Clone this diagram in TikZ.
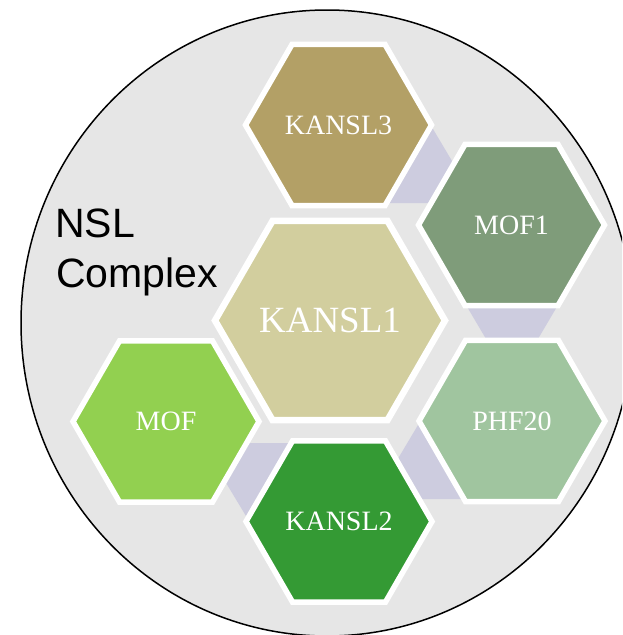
\documentclass[tikz,border=0pt]{standalone}
\usepackage{fontspec}
\setmainfont{Liberation Serif}
\setsansfont{Liberation Sans}
\definecolor{bggray}{HTML}{E6E6E6}
\definecolor{lav}{HTML}{CDCCDF}
\definecolor{cKthree}{HTML}{B3A066}
\definecolor{cMOFone}{HTML}{7F9C7A}
\definecolor{cKone}{HTML}{D2CE9E}
\definecolor{cMOF}{HTML}{92D050}
\definecolor{cPHF}{HTML}{A0C59F}
\definecolor{cKtwo}{HTML}{349A34}
\tikzset{
  hexsmall/.style={draw=white, line width=5.5pt, line join=miter},
  hexbig/.style={draw=white, line width=6.5pt, line join=miter},
  gapfill/.style={fill=lav, draw=none},
  hexlabel/.style={text=white, inner sep=0pt, font=\fontsize{28}{28}\selectfont},
  biglabel/.style={text=white, inner sep=0pt, font=\fontsize{37}{37}\selectfont},
  titletext/.style={text=black, inner sep=0pt, anchor=base west, font=\sffamily\fontsize{41}{41}\selectfont}
}
% #1 name, #2 cx, #3 cy, #4 radius, #5 colour, #6 style
\newcommand\hexshape[6]{%
  \path[#6, fill=#5] ({#2+#4},{#3}) -- ({#2+#4/2},{#3-0.8660*#4}) -- ({#2-#4/2},{#3-0.8660*#4})
    -- ({#2-#4},{#3}) -- ({#2-#4/2},{#3+0.8660*#4}) -- ({#2+#4/2},{#3+0.8660*#4}) -- cycle;
  \coordinate (#1) at (#2,#3);
}
\begin{document}
\begin{tikzpicture}[x=1pt,y=-1pt]
\useasboundingbox (0,0) rectangle (622,635);
\clip (0,0) rectangle (622,635);
% outer complex
\draw[fill=bggray, draw=black, line width=1.5pt] (327,323) ellipse [x radius=306, y radius=313];
% lavender connectors
\path[gapfill] (430,124) -- (477,203) -- (383,203) -- cycle;
\path[gapfill] (466,305) -- (558,305) -- (512,383) -- cycle;
\path[gapfill] (421,420) -- (468,499) -- (374,499) -- cycle;
\path[gapfill] (249,521) -- (202,443) -- (296,443) -- cycle;
% hexagons
\hexshape{kthree}{338.5}{125}{93}{cKthree}{hexsmall}
\hexshape{mofone}{511.5}{225}{93}{cMOFone}{hexsmall}
\hexshape{kone}{330}{320.5}{115}{cKone}{hexbig}
\hexshape{mof}{166}{421.5}{93}{cMOF}{hexsmall}
\hexshape{phf}{512}{421}{93}{cPHF}{hexsmall}
\hexshape{ktwo}{339}{521.5}{93}{cKtwo}{hexsmall}
% labels
\node[hexlabel] (lkthree) at (kthree) {KANSL3};
\node[hexlabel] (lmofone) at (mofone) {MOF1};
\node[biglabel] (lkone) at (kone) {KANSL1};
\node[hexlabel] (lmof) at (mof) {MOF};
\node[hexlabel] (lphf) at (phf) {PHF20};
\node[hexlabel] (lktwo) at (ktwo) {KANSL2};
\node[titletext] (nsl) at (55,237) {NSL};
\node[titletext] (cplx) at (56,287) {Complex};
\end{tikzpicture}
\end{document}
